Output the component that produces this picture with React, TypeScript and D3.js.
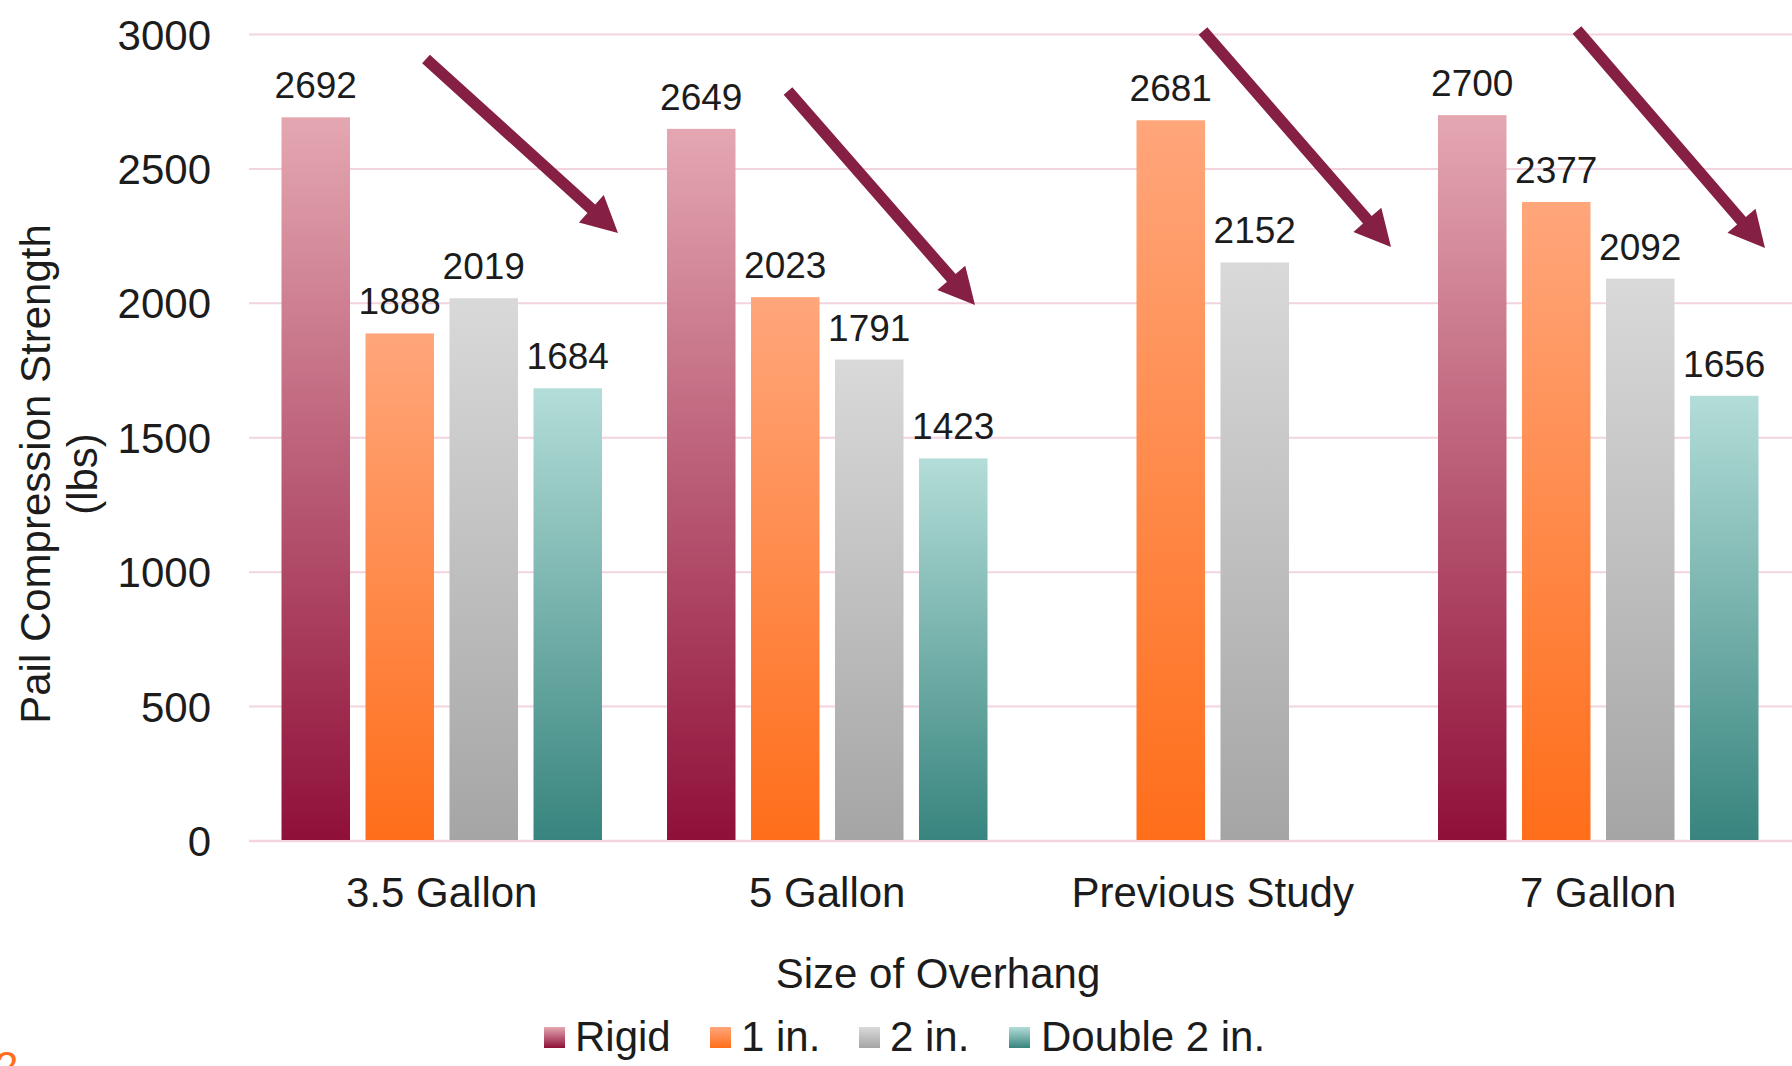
import React from "react";
import * as d3 from "d3";

const categories = ["3.5 Gallon", "5 Gallon", "Previous Study", "7 Gallon"];
const seriesNames = ["Rigid", "1 in.", "2 in.", "Double 2 in."];
const rigid: (number | null)[] = [2692, 2649, null, 2700];
const oneIn: (number | null)[] = [1888, 2023, 2681, 2377];
const twoIn: (number | null)[] = [2019, 1791, 2152, 2092];
const double2In: (number | null)[] = [1684, 1423, null, 1656];
const yTicks = [0, 500, 1000, 1500, 2000, 2500, 3000];
const seriesValues = [rigid, oneIn, twoIn, double2In];

const gradients = [
  { id: "gRigid", top: "#E4A7B1", bottom: "#8F1039" },
  { id: "gOne", top: "#FFA67B", bottom: "#FF6E1A" },
  { id: "gTwo", top: "#D9D9D9", bottom: "#A5A5A5" },
  { id: "gDouble", top: "#B3DDD8", bottom: "#38847E" },
];

// annotation arrows (pixel positions of start and tip)
const arrows = [
  { x1: 426, y1: 59, x2: 618, y2: 233 },
  { x1: 788, y1: 91, x2: 975, y2: 305 },
  { x1: 1203, y1: 31, x2: 1391, y2: 247 },
  { x1: 1577, y1: 30, x2: 1765, y2: 248 },
];

const FONT = "'Liberation Sans', Arial, sans-serif";
const TEXT = "#1C1C1C";
const GRID = "#F3D3DE";

function arrowPath(a: { x1: number; y1: number; x2: number; y2: number }) {
  const shaft = 11.5;
  const headW = 37;
  const headL = 36;
  const dx = a.x2 - a.x1;
  const dy = a.y2 - a.y1;
  const len = Math.sqrt(dx * dx + dy * dy);
  const ux = dx / len;
  const uy = dy / len;
  const px = -uy;
  const py = ux;
  const bx = a.x2 - ux * headL;
  const by = a.y2 - uy * headL;
  const pts = [
    [a.x1 + px * shaft / 2, a.y1 + py * shaft / 2],
    [bx + px * shaft / 2, by + py * shaft / 2],
    [bx + px * headW / 2, by + py * headW / 2],
    [a.x2, a.y2],
    [bx - px * headW / 2, by - py * headW / 2],
    [bx - px * shaft / 2, by - py * shaft / 2],
    [a.x1 - px * shaft / 2, a.y1 - py * shaft / 2],
  ];
  return "M" + pts.map((p) => p.join(",")).join("L") + "Z";
}

export default function App() {
  const W = 1792;
  const H = 1066;
  const left = 249;
  const right = 1791;
  const top = 34.5;
  const bottom = 841;

  const y = d3.scaleLinear().domain([0, 3000]).range([bottom, top]);
  const x0 = d3.scaleBand<string>().domain(categories).range([left, right]).padding(0);
  const step = x0.step();
  const groupW = 320.5;
  const x1 = d3
    .scaleBand<string>()
    .domain(seriesNames)
    .range([(step - groupW) / 2, step - (step - groupW) / 2])
    .paddingInner(15.5 / 84)
    .paddingOuter(0);
  const bw = x1.bandwidth();

  const legendItems = [
    { name: seriesNames[0], sx: 544, tx: 575 },
    { name: seriesNames[1], sx: 710, tx: 741 },
    { name: seriesNames[2], sx: 859, tx: 890 },
    { name: seriesNames[3], sx: 1009, tx: 1041 },
  ];

  return (
    <svg
      width={W}
      height={H}
      style={{ position: "absolute", left: 0, top: 0, display: "block", background: "#fff" }}
      fontFamily={FONT}
    >
      <defs>
        {gradients.map((g) => (
          <linearGradient key={g.id} id={g.id} x1="0" y1="0" x2="0" y2="1">
            <stop offset="0%" stopColor={g.top} />
            <stop offset="100%" stopColor={g.bottom} />
          </linearGradient>
        ))}
      </defs>
      <rect x={0} y={0} width={W} height={H} fill="#fff" />

      {/* gridlines */}
      {yTicks.map((t) => (
        <line
          key={t}
          x1={left}
          x2={W}
          y1={y(t)}
          y2={y(t)}
          stroke={GRID}
          strokeWidth={t === 0 ? 2.5 : 2}
        />
      ))}

      {/* y tick labels */}
      {yTicks.map((t) => (
        <text
          key={"yt" + t}
          x={211}
          y={y(t) + 15}
          textAnchor="end"
          fontSize={42}
          fill={TEXT}
        >
          {t}
        </text>
      ))}

      {/* bars */}
      {categories.map((c, ci) => (
        <g key={c} transform={`translate(${x0(c)},0)`}>
          {seriesNames.map((s, si) => {
            const v = seriesValues[si][ci];
            if (v === null || v === undefined) return null;
            const bx = x1(s) as number;
            return (
              <g key={s}>
                <rect
                  x={bx}
                  y={y(v)}
                  width={bw}
                  height={y(0) - y(v) - 1}
                  fill={`url(#${gradients[si].id})`}
                />
                <text
                  x={bx + bw / 2}
                  y={y(v) - 19}
                  textAnchor="middle"
                  fontSize={37}
                  fill={TEXT}
                >
                  {v}
                </text>
              </g>
            );
          })}
        </g>
      ))}

      {/* category labels */}
      {categories.map((c) => (
        <text
          key={"c" + c}
          x={(x0(c) as number) + step / 2}
          y={907}
          textAnchor="middle"
          fontSize={42}
          fill={TEXT}
        >
          {c}
        </text>
      ))}

      {/* axis titles */}
      <text x={938} y={988} textAnchor="middle" fontSize={42} fill={TEXT}>
        Size of Overhang
      </text>
      <g transform="translate(50,474) rotate(-90)">
        <text x={0} y={0} textAnchor="middle" fontSize={42} fill={TEXT}>
          Pail Compression Strength
        </text>
        <text x={0} y={47} textAnchor="middle" fontSize={42} fill={TEXT}>
          (lbs)
        </text>
      </g>

      {/* arrows */}
      {arrows.map((a, i) => (
        <path key={"a" + i} d={arrowPath(a)} fill="#861F44" />
      ))}

      {/* legend */}
      {legendItems.map((l, i) => (
        <g key={"l" + i}>
          <rect x={l.sx} y={1027} width={21} height={21} fill={`url(#${gradients[i].id})`} />
          <text x={l.tx} y={1051} fontSize={42} fill={TEXT}>
            {l.name}
          </text>
        </g>
      ))}

      {/* page number fragment */}
      <text x={-5} y={1081} fontSize={42} fill="#FF6E1A">
        2
      </text>
    </svg>
  );
}
